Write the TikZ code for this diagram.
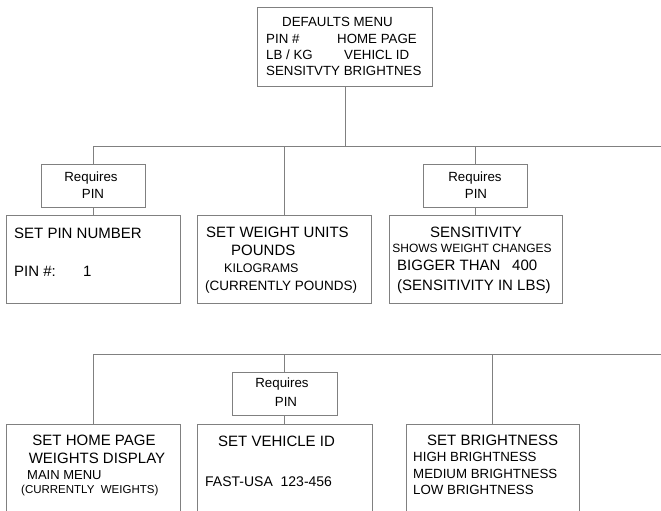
\documentclass[tikz,border=0pt]{standalone}
\usepackage{fontspec}
\setmainfont{Liberation Sans}
\definecolor{linegray}{HTML}{808080}
\begin{document}
\begin{tikzpicture}[x=1pt,y=-1pt,
  box/.style={draw=linegray,line width=0.9pt,rectangle,inner sep=0pt},
  conn/.style={draw=linegray,line width=0.9pt},
  txt/.style={inner sep=0pt,text=black},
  fa/.style={txt,font=\fontsize{15}{18}\selectfont},
  fb/.style={txt,font=\fontsize{13.3}{16}\selectfont},
  fc/.style={txt,font=\fontsize{12}{14}\selectfont},
  fd/.style={txt,font=\fontsize{11.5}{14}\selectfont},
  fe/.style={txt,font=\fontsize{14}{17}\selectfont}]
\useasboundingbox (0,0) rectangle (661,511);
\clip (0,0) rectangle (661,511);
\fill[white] (0,0) rectangle (661,511);
% boxes
\node[box,minimum width=175,minimum height=79] (top) at (344.5,46.5) {};
\node[box,minimum width=104,minimum height=43] (req1) at (93,185.5) {};
\node[box,minimum width=174,minimum height=88] (pin) at (93,259) {};
\node[box,minimum width=174,minimum height=88] (wt) at (284,259) {};
\node[box,minimum width=104,minimum height=43] (req2) at (475.5,185.5) {};
\node[box,minimum width=173,minimum height=88] (sens) at (475.5,259) {};
\node[box,minimum width=105,minimum height=43] (req3) at (284.5,393.5) {};
\node[box,minimum width=174,minimum height=116] (home) at (93,482) {};
\node[box,minimum width=175,minimum height=116] (veh) at (284.5,482) {};
\node[box,minimum width=173,minimum height=116] (bright) at (492.5,482) {};
% connectors, first row
\coordinate (j0) at (345,146);
\coordinate (jL) at (93,146);
\coordinate (jW) at (284,146);
\coordinate (jS) at (475.5,146);
\coordinate (jR) at (662,146);
\draw[conn] (top.south -| j0) -- (j0);
\draw[conn] (jL) -- (jR);
\draw[conn] (jL) -- (req1.north);
\draw[conn] (req1.south) -- (pin.north);
\draw[conn] (jW) -- (wt.north);
\draw[conn] (jS) -- (req2.north);
\draw[conn] (req2.south) -- (sens.north);
% connectors, second row
\coordinate (kL) at (93,354);
\coordinate (kV) at (284.5,354);
\coordinate (kB) at (492.5,354);
\coordinate (kR) at (662,354);
\draw[conn] (kL) -- (kR);
\draw[conn] (kL) -- (home.north);
\draw[conn] (kV) -- (req3.north);
\draw[conn] (req3.south) -- (veh.north);
\draw[conn] (kB) -- (bright.north);
% top box text
\node[fb,anchor=base west] (t1) at (282,26.8) {DEFAULTS MENU};
\node[fb,anchor=base west] (t2) at (266,43.8) {PIN \#};
\node[fb,anchor=base west] (t3) at (337,43.8) {HOME PAGE};
\node[fb,anchor=base west] (t4) at (266,59.8) {LB / KG};
\node[fb,anchor=base west] (t5) at (344,59.8) {VEHICL ID};
\node[fb,anchor=base west] (t6) at (266,75.8) {SENSITVTY BRIGHTNES};
% requires boxes
\node[fb,anchor=base] (r1a) at (91,181.8) {Requires};
\node[fb,anchor=base] (r1b) at (93,198.8) {PIN};
\node[fb,anchor=base] (r2a) at (475,181.8) {Requires};
\node[fb,anchor=base] (r2b) at (476,198.8) {PIN};
\node[fb,anchor=base] (r3a) at (282,387.8) {Requires};
\node[fb,anchor=base] (r3b) at (286,406.8) {PIN};
% PIN box
\node[fa,anchor=base west] (p1) at (14,238.4) {SET PIN NUMBER};
\node[fa,anchor=base west] (p2) at (14,276.4) {PIN \#:};
\node[fa,anchor=base west] (p3) at (83,276.4) {1};
% weight box
\node[fa,anchor=base west] (w1) at (206,237.4) {SET WEIGHT UNITS};
\node[fa,anchor=base west] (w2) at (231,255.4) {POUNDS};
\node[txt,font=\fontsize{12.5}{15}\selectfont,anchor=base west] (w3) at (224,272.5) {KILOGRAMS};
\node[txt,font=\fontsize{13.5}{16}\selectfont,anchor=base west] (w4) at (205,290.8) {(CURRENTLY POUNDS)};
% sensitivity box
\node[fa,anchor=base] (s1) at (476,237.4) {SENSITIVITY};
\node[fc,anchor=base] (s2) at (472,252.3) {SHOWS WEIGHT CHANGES};
\node[fa,anchor=base west] (s3) at (397,270.4) {BIGGER THAN};
\node[fa,anchor=base west] (s4) at (512,270.4) {400};
\node[fa,anchor=base west] (s5) at (397,290.4) {(SENSITIVITY IN LBS)};
% home page box
\node[fa,anchor=base] (h1) at (94,445.4) {SET HOME PAGE};
\node[fa,anchor=base] (h2) at (97,463.4) {WEIGHTS DISPLAY};
\node[txt,font=\fontsize{13}{16}\selectfont,anchor=base west] (h3) at (27,479.7) {MAIN MENU};
\node[fd,anchor=base west] (h4) at (21,493.1) {(CURRENTLY\ \ WEIGHTS)};
% vehicle box
\node[fa,anchor=base west] (v1) at (218,446.4) {SET VEHICLE ID};
\node[fe,anchor=base west] (v2) at (205,486) {FAST-USA\ \ 123-456};
% brightness box
\node[fa,anchor=base west] (b1) at (427,445.4) {SET BRIGHTNESS};
\node[fb,anchor=base west] (b2) at (413,461.8) {HIGH BRIGHTNESS};
\node[fb,anchor=base west] (b3) at (413,478.8) {MEDIUM BRIGHTNESS};
\node[fb,anchor=base west] (b4) at (413,494.8) {LOW BRIGHTNESS};
\end{tikzpicture}
\end{document}
